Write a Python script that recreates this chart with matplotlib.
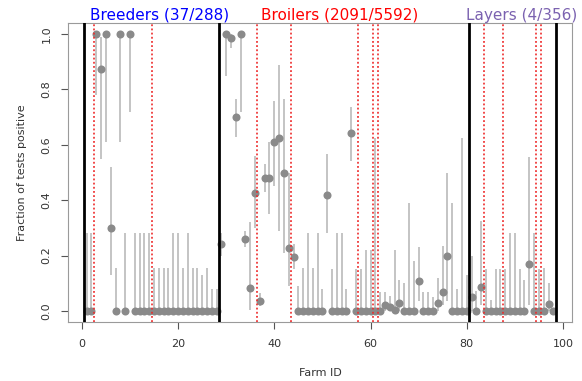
import numpy as np
import matplotlib
matplotlib.use("Agg")
import matplotlib.pyplot as plt

# ── data ──────────────────────────────────────────────────────────────────────
breeder_frac = [0, 0, 1.0, 0.875, 1.0, 0.30, 0, 1.0, 0, 1.0,
                0, 0, 0, 0, 0, 0, 0, 0, 0, 0, 0, 0, 0, 0, 0, 0, 0, 0]
breeder_lo   = [0, 0, 0.78, 0.55, 0.61, 0.13, 0, 0.61, 0, 0.72,
                0, 0, 0, 0, 0, 0, 0, 0, 0, 0, 0, 0, 0, 0, 0, 0, 0, 0]
breeder_hi   = [0.28, 0.28, 1.0, 0.99, 1.0, 0.52, 0.156, 1.0, 0.28, 1.0,
                0.28, 0.28, 0.28, 0.28, 0.156, 0.156, 0.156, 0.156, 0.28, 0.28,
                0.156, 0.28, 0.156, 0.156, 0.13, 0.156, 0.08, 0.08]

broiler_frac = [0.24, 1.0, 0.985, 0.70, 1.0, 0.26, 0.083, 0.427, 0.035, 0.48,
                0.48, 0.61, 0.626, 0.50, 0.228, 0.195, 0, 0, 0, 0,
                0, 0, 0.417, 0, 0, 0, 0, 0.642, 0, 0,
                0, 0, 0, 0, 0.02, 0.015, 0.003, 0.03, 0, 0,
                0, 0.107, 0, 0, 0, 0.029, 0.07, 0.20, 0, 0,
                0, 0]
broiler_lo   = [0.20, 0.85, 0.95, 0.63, 0.72, 0.23, 0.005, 0.30, 0.017, 0.43,
                0.35, 0.45, 0.29, 0.21, 0.09, 0.15, 0, 0, 0, 0,
                0, 0, 0.28, 0, 0, 0, 0, 0.54, 0, 0,
                0, 0, 0, 0, 0, 0, 0, 0, 0, 0,
                0, 0.035, 0, 0, 0, 0, 0.02, 0.035, 0, 0,
                0, 0]
broiler_hi   = [0.28, 1.0, 1.0, 0.765, 1.0, 0.29, 0.32, 0.56, 0.065, 0.53,
                0.61, 0.76, 0.89, 0.765, 0.50, 0.24, 0.09, 0.156, 0.28, 0.156,
                0.28, 0.08, 0.566, 0.152, 0.28, 0.28, 0.08, 0.735, 0.152, 0.152,
                0.22, 0.22, 0.626, 0.07, 0.067, 0.053, 0.22, 0.113, 0.10, 0.39,
                0.18, 0.23, 0.067, 0.067, 0.05, 0.12, 0.236, 0.50, 0.39, 0.08,
                0.626, 0.131]

layer_frac = [0.05, 0, 0.085, 0, 0, 0, 0, 0, 0, 0,
              0, 0, 0.168, 0, 0, 0, 0.026, 0]
layer_lo   = [0, 0, 0.02, 0, 0, 0, 0, 0, 0, 0,
              0, 0, 0.02, 0, 0, 0, 0, 0]
layer_hi   = [0.20, 0.071, 0.324, 0.15, 0.04, 0.152, 0.152, 0.152, 0.28, 0.28,
              0.152, 0.113, 0.556, 0.28, 0.15, 0.156, 0.10, 0.0]

group_bounds  = [0.5, 28.5, 80.5, 98.5]
change_points = [2.5, 14.5, 36.5, 43.5, 57.5, 60.5, 61.5, 83.5, 87.5, 94.5, 95.5]

group_labels = ["Breeders (37/288)", "Broilers (2091/5592)", "Layers (4/356)"]
group_colors = ["#0000ff", "#ff0000", "#7b62b0"]

# ── plot ──────────────────────────────────────────────────────────────────────
frac = np.array(breeder_frac + broiler_frac + layer_frac)
lo   = np.array(breeder_lo + broiler_lo + layer_lo)
hi   = np.array(breeder_hi + broiler_hi + layer_hi)
farm = np.arange(1, len(frac) + 1)

fig = plt.figure(figsize=(5.82, 3.81), dpi=100)
ax = fig.add_axes([68 / 582, 59 / 381, 504 / 582, 299 / 381])

ax.vlines(farm, lo, hi, color="#c4c4c4", lw=1.4, zorder=1)
ax.plot(farm, frac, "o", color="#8a8a8a", ms=5.8, mec="none", zorder=2)

for b in group_bounds:
    ax.axvline(b, color="black", lw=2.0, zorder=3)
for c in change_points:
    ax.axvline(c, color="#ee2a2a", lw=1.2, ls=(0, (1.1, 1.4)), zorder=4)

ax.set_xlim(-2.88, 101.88)
ax.set_ylim(-0.04, 1.04)
ax.set_xticks([0, 20, 40, 60, 80, 100])
ax.set_yticks([0.0, 0.2, 0.4, 0.6, 0.8, 1.0])
ax.set_yticklabels(["0.0", "0.2", "0.4", "0.6", "0.8", "1.0"], rotation=90, va="center")

for s in ax.spines.values():
    s.set_color("#9a9a9a")
ax.tick_params(colors="#555555", labelcolor="#333333", labelsize=8, length=5, pad=7)
ax.set_xlabel("Farm ID", fontsize=8, color="#333333", labelpad=14)
ax.set_ylabel("Fraction of tests positive", fontsize=8, color="#333333", labelpad=10)

label_x = [16.1, 53.6, 91.5]
for x, txt, col in zip(label_x, group_labels, group_colors):
    ax.text(x, 1.0, txt, transform=ax.get_xaxis_transform(), color=col,
            fontsize=11, ha="center", va="bottom")

fig.savefig("out.png", dpi=100)
